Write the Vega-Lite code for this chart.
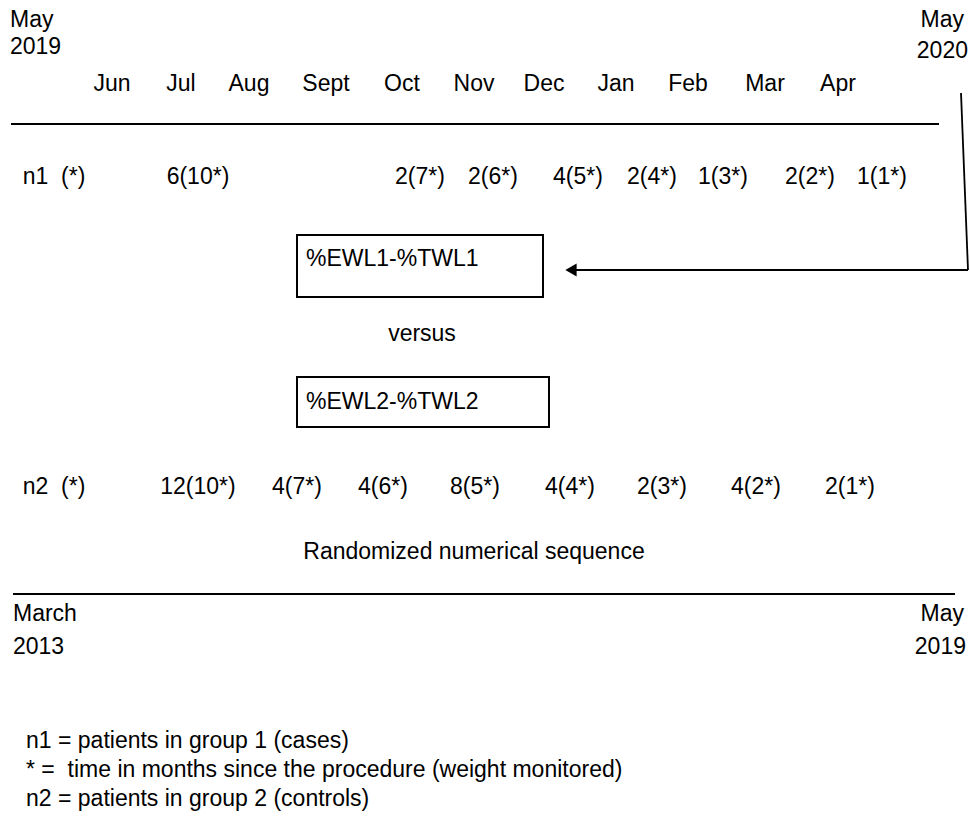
{
  "$schema": "https://vega.github.io/schema/vega-lite/v6.json",
  "width": 970,
  "height": 818,
  "padding": 0,
  "autosize": {"type": "none"},
  "background": "white",
  "config": {"view": {"stroke": null}, "text": {"font": "Liberation Sans", "fontSize": 23, "color": "black"}},
  "encoding": {
    "x": {"field": "x", "type": "quantitative", "scale": {"domain": [0, 970], "nice": false, "zero": false}, "axis": null},
    "y": {"field": "y", "type": "quantitative", "scale": {"domain": [0, 818], "nice": false, "zero": false, "reverse": true}, "axis": null}
  },
  "layer": [
    {
      "data": {"values": [
        {"x": 11, "y": 124, "x2": 939, "y2": 124, "w": 2},
        {"x": 13, "y": 594, "x2": 955, "y2": 594, "w": 2},
        {"x": 961, "y": 93, "x2": 968, "y2": 270, "w": 1.8},
        {"x": 968, "y": 270, "x2": 574, "y2": 270, "w": 1.8}
      ]},
      "mark": {"type": "rule", "color": "black"},
      "encoding": {
        "x2": {"field": "x2"},
        "y2": {"field": "y2"},
        "strokeWidth": {"field": "w", "type": "quantitative", "scale": null}
      }
    },
    {
      "data": {"values": [{"x": 571, "y": 270}]},
      "mark": {"type": "point", "shape": "triangle-left", "filled": true, "color": "black", "size": 170, "opacity": 1}
    },
    {
      "data": {"values": [
        {"x": 297, "y": 235, "x2": 543, "y2": 297},
        {"x": 297, "y": 377, "x2": 549, "y2": 427}
      ]},
      "mark": {"type": "rect", "fill": null, "stroke": "black", "strokeWidth": 2},
      "encoding": {"x2": {"field": "x2"}, "y2": {"field": "y2"}}
    },
    {
      "data": {"values": [
        {"label": "Jun", "x": 112, "y": 84},
        {"label": "Jul", "x": 181, "y": 84},
        {"label": "Aug", "x": 249, "y": 84},
        {"label": "Sept", "x": 326, "y": 84},
        {"label": "Oct", "x": 402, "y": 84},
        {"label": "Nov", "x": 474, "y": 84},
        {"label": "Dec", "x": 544, "y": 84},
        {"label": "Jan", "x": 616, "y": 84},
        {"label": "Feb", "x": 688, "y": 84},
        {"label": "Mar", "x": 765, "y": 84},
        {"label": "Apr", "x": 838, "y": 84},
        {"label": "n1\u00a0 (*)", "x": 54, "y": 177},
        {"label": "6(10*)", "x": 198, "y": 177},
        {"label": "2(7*)", "x": 420, "y": 177},
        {"label": "2(6*)", "x": 493, "y": 177},
        {"label": "4(5*)", "x": 578, "y": 177},
        {"label": "2(4*)", "x": 652, "y": 177},
        {"label": "1(3*)", "x": 723, "y": 177},
        {"label": "2(2*)", "x": 810, "y": 177},
        {"label": "1(1*)", "x": 882, "y": 177},
        {"label": "versus", "x": 422, "y": 334},
        {"label": "n2\u00a0 (*)", "x": 54, "y": 487},
        {"label": "12(10*)", "x": 198, "y": 487},
        {"label": "4(7*)", "x": 297, "y": 487},
        {"label": "4(6*)", "x": 383, "y": 487},
        {"label": "8(5*)", "x": 475, "y": 487},
        {"label": "4(4*)", "x": 570, "y": 487},
        {"label": "2(3*)", "x": 662, "y": 487},
        {"label": "4(2*)", "x": 756, "y": 487},
        {"label": "2(1*)", "x": 850, "y": 487},
        {"label": "Randomized numerical sequence", "x": 474, "y": 552}
      ]},
      "mark": {"type": "text", "align": "center", "baseline": "middle"},
      "encoding": {"text": {"field": "label"}}
    },
    {
      "data": {"values": [
        {"label": "May", "x": 10, "y": 20},
        {"label": "2019", "x": 10, "y": 47},
        {"label": "%EWL1-%TWL1", "x": 306, "y": 259},
        {"label": "%EWL2-%TWL2", "x": 306, "y": 402},
        {"label": "March", "x": 13, "y": 614},
        {"label": "2013", "x": 13, "y": 647},
        {"label": "n1 = patients in group 1 (cases)", "x": 26, "y": 741},
        {"label": "* =\u00a0 time in months since the procedure (weight monitored)", "x": 26, "y": 770},
        {"label": "n2 = patients in group 2 (controls)", "x": 26, "y": 799}
      ]},
      "mark": {"type": "text", "align": "left", "baseline": "middle"},
      "encoding": {"text": {"field": "label"}}
    },
    {
      "data": {"values": [
        {"label": "May", "x": 964, "y": 20},
        {"label": "2020", "x": 968, "y": 51},
        {"label": "May", "x": 964, "y": 614},
        {"label": "2019", "x": 966, "y": 647}
      ]},
      "mark": {"type": "text", "align": "right", "baseline": "middle"},
      "encoding": {"text": {"field": "label"}}
    }
  ]
}
